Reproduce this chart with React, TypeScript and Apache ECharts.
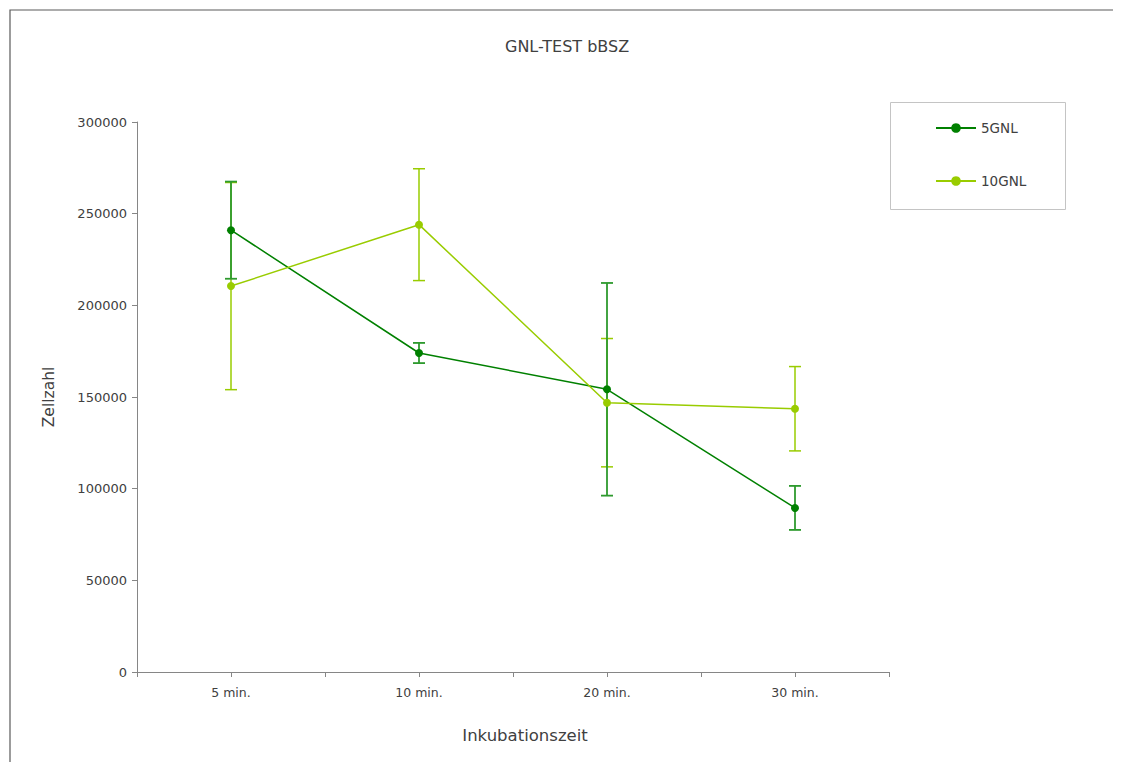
import React, { useEffect, useRef } from "react";
import * as echarts from "echarts";

const categories = ["5 min.", "10 min.", "20 min.", "30 min."];
const mean5GNL = [241000, 174000, 154200, 89500];
const err5GNL = [26500, 5500, 58000, 12000];
const mean10GNL = [210500, 244000, 146900, 143600];
const err10GNL = [56500, 30500, 35000, 23000];
const yTicks = { min: 0, max: 300000, interval: 50000 };

const FONT = "DejaVu Sans";
const TEXT = "#404040";
const C5 = "#008000";
const C5ERR = "#2e9a2e";
const C10 = "#99cc00";

function errorSeries(name: string, means: number[], errs: number[], color: string, width: number) {
  return {
    type: "custom",
    name: name + "-err",
    xAxisIndex: 0,
    yAxisIndex: 0,
    silent: true,
    z: 1,
    data: means.map((m, i) => [i, m - errs[i], m + errs[i]]),
    renderItem: (params: any, api: any) => {
      const idx = api.value(0);
      const lo = api.coord([idx, api.value(1)]);
      const hi = api.coord([idx, api.value(2)]);
      const hw = 6;
      const style = { stroke: color, lineWidth: width, fill: "none" };
      return {
        type: "group",
        children: [
          { type: "line", shape: { x1: lo[0], y1: lo[1], x2: hi[0], y2: hi[1] }, style },
          { type: "line", shape: { x1: hi[0] - hw, y1: hi[1], x2: hi[0] + hw, y2: hi[1] }, style },
          { type: "line", shape: { x1: lo[0] - hw, y1: lo[1], x2: lo[0] + hw, y2: lo[1] }, style },
        ],
      };
    },
  };
}

export default function App() {
  const ref = useRef<HTMLDivElement>(null);
  useEffect(() => {
    if (!ref.current) return;
    const chart = echarts.init(ref.current, undefined, { renderer: "svg" });
    chart.setOption({
      animation: false,
      backgroundColor: "#ffffff",
      textStyle: { fontFamily: FONT, color: TEXT },
      title: {
        text: "GNL-TEST bBSZ",
        left: 497,
        top: 30,
        padding: 0,
        textStyle: { fontFamily: FONT, fontSize: 16, fontWeight: "normal", color: TEXT },
      },
      graphic: [
        {
          type: "rect",
          shape: { x: 2, y: 2, width: 1400, height: 1000 },
          style: { fill: "none", stroke: "#5a5a5a", lineWidth: 1.2 },
          silent: true,
          z: -10,
        },
        {
          type: "rect",
          shape: { x: 882.5, y: 94.5, width: 175, height: 107 },
          style: { fill: "#ffffff", stroke: "#c4c4c4", lineWidth: 1 },
          silent: true,
          z: -5,
        },
      ],
      legend: {
        orient: "vertical",
        left: 927,
        top: 113,
        itemWidth: 40,
        itemHeight: 12,
        itemGap: 39,
        padding: 0,
        data: ["5GNL", "10GNL"],
        textStyle: { fontFamily: FONT, fontSize: 13.5, color: TEXT },
      },
      grid: { left: 129, top: 114, right: 232, bottom: 90, containLabel: false },
      xAxis: [
        {
          type: "category",
          data: categories,
          position: "bottom",
          boundaryGap: true,
          name: "Inkubationszeit",
          nameLocation: "middle",
          nameGap: 55,
          nameTextStyle: { fontFamily: FONT, fontSize: 16.5, color: TEXT, padding: [0, 0, 0, 24] },
          axisLine: { show: true, lineStyle: { color: "#868686", width: 1 } },
          axisTick: { show: true, alignWithLabel: true, length: 5, lineStyle: { color: "#868686" } },
          axisLabel: { fontFamily: FONT, fontSize: 12.5, color: TEXT, margin: 14 },
          splitLine: { show: false },
        },
        {
          type: "category",
          data: categories,
          position: "bottom",
          boundaryGap: true,
          axisLine: { show: false },
          axisTick: { show: true, alignWithLabel: false, length: 5, lineStyle: { color: "#868686" } },
          axisLabel: { show: false },
          splitLine: { show: false },
        },
      ],
      yAxis: {
        type: "value",
        min: yTicks.min,
        max: yTicks.max,
        interval: yTicks.interval,
        name: "Zellzahl",
        nameLocation: "middle",
        nameGap: 80,
        nameTextStyle: { fontFamily: FONT, fontSize: 15.5, color: TEXT },
        axisLine: { show: true, lineStyle: { color: "#868686", width: 1 } },
        axisTick: { show: true, length: 5, lineStyle: { color: "#868686" } },
        axisLabel: { fontFamily: FONT, fontSize: 13, color: TEXT, margin: 10, formatter: (v: number) => String(v) },
        splitLine: { show: false },
      },
      series: [
        errorSeries("10GNL", mean10GNL, err10GNL, C10, 1.5),
        errorSeries("5GNL", mean5GNL, err5GNL, C5ERR, 1.8),
        {
          type: "line",
          name: "5GNL",
          data: mean5GNL,
          symbol: "circle",
          symbolSize: 8,
          lineStyle: { color: C5, width: 1.5 },
          itemStyle: { color: C5 },
          z: 3,
        },
        {
          type: "line",
          name: "10GNL",
          data: mean10GNL,
          symbol: "circle",
          symbolSize: 8,
          lineStyle: { color: C10, width: 1.5 },
          itemStyle: { color: C10 },
          z: 3,
        },
      ],
    });
    return () => chart.dispose();
  }, []);
  return <div ref={ref} style={{ width: 1113, height: 754 }} />;
}
